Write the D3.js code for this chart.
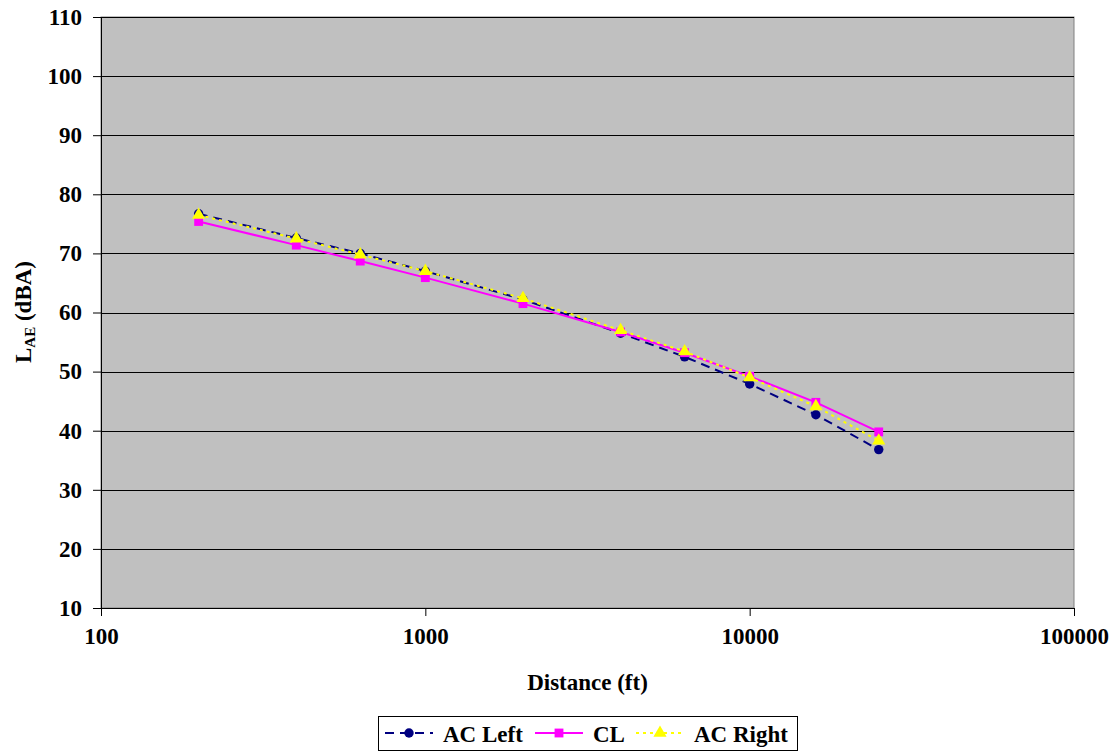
<!DOCTYPE html>
<html>
<head>
<meta charset="utf-8">
<script src="https://cdn.jsdelivr.net/npm/d3@7"></script>
<style>
  body { margin: 0; background: #fff; }
  text { font-family: "Liberation Serif", "Times New Roman", serif; font-weight: bold; fill: #000; }
</style>
</head>
<body>
<svg id="chart" width="1117" height="751"></svg>
<script>
// values
var distances = [200, 400, 630, 1000, 2000, 4000, 6300, 10000, 16000, 25000];
var acLeft  = [76.7, 72.6, 70.0, 67.0, 62.2, 56.5, 52.5, 47.9, 42.7, 36.8];
var cl      = [75.4, 71.4, 68.7, 65.9, 61.5, 56.7, 53.2, 49.2, 44.8, 39.8];
var acRight = [76.5, 72.5, 69.8, 67.0, 62.4, 57.0, 53.4, 49.0, 44.1, 38.3];
var xTicks = [100, 1000, 10000, 100000];
var yTicks = [10, 20, 30, 40, 50, 60, 70, 80, 90, 100, 110];
var seriesNames = ["AC Left", "CL", "AC Right"];

var plotLeft = 101, plotRight = 1074, plotTop = 17, plotBottom = 608;

var x = d3.scaleLog().domain([100, 100000]).range([plotLeft, plotRight]);
var y = d3.scaleLinear().domain([10, 110]).range([plotBottom, plotTop]);

var svg = d3.select("#chart");

svg.append("rect")
    .attr("x", plotLeft).attr("y", plotTop)
    .attr("width", plotRight - plotLeft).attr("height", plotBottom - plotTop)
    .attr("fill", "#c0c0c0")
    .attr("stroke", "#808080");

// gridlines
svg.append("g").selectAll("line")
    .data(yTicks)
    .enter().append("line")
    .attr("x1", plotLeft).attr("x2", plotRight)
    .attr("y1", function(d) { return Math.round(y(d)) + 0.5; })
    .attr("y2", function(d) { return Math.round(y(d)) + 0.5; })
    .attr("stroke", "#000").attr("stroke-width", 1.2);

// axes
var yAxis = d3.axisLeft(y).tickValues(yTicks).tickSize(8).tickPadding(11);
var xAxis = d3.axisBottom(x).tickValues(xTicks).tickSize(8).tickPadding(12)
    .tickFormat(function(d) { return d; });

var gy = svg.append("g").attr("transform", "translate(" + plotLeft + ",0)").call(yAxis);
var gx = svg.append("g").attr("transform", "translate(0," + plotBottom + ")").call(xAxis);

[gx, gy].forEach(function(g) {
    g.select(".domain").attr("stroke", "#000");
    g.selectAll(".tick line").attr("stroke", "#000");
    g.selectAll("text").style("font-size", "23px")
        .style("font-family", "'Liberation Serif', serif").style("font-weight", "bold");
});

// axis titles
svg.append("text")
    .attr("x", (plotLeft + plotRight) / 2).attr("y", 690)
    .attr("text-anchor", "middle")
    .style("font-size", "23px")
    .text("Distance (ft)");

var yt = svg.append("text")
    .attr("transform", "translate(31,312) rotate(-90)")
    .attr("text-anchor", "middle")
    .style("font-size", "23px");
yt.append("tspan").text("L");
yt.append("tspan").attr("dy", 4).style("font-size", "15px").text("AE");
yt.append("tspan").attr("dy", -4).text(" (dBA)");

var line = d3.line()
    .x(function(d) { return x(d[0]); })
    .y(function(d) { return y(d[1]); });

function pts(vals) { return distances.map(function(d, i) { return [d, vals[i]]; }); }

var styles = [
    { vals: acLeft,  color: "#000080", width: 2, dash: "9,6", sym: d3.symbolCircle,   size: 70 },
    { vals: cl,      color: "#ff00ff", width: 2, dash: null,  sym: d3.symbolSquare,   size: 78 },
    { vals: acRight, color: "#ffff00", width: 2, dash: "3,4", sym: d3.symbolTriangle, size: 75 }
];

styles.forEach(function(s) {
    var g = svg.append("g");
    g.append("path")
        .attr("d", line(pts(s.vals)))
        .attr("fill", "none")
        .attr("stroke", s.color)
        .attr("stroke-width", s.width)
        .attr("stroke-dasharray", s.dash);
    g.selectAll("path.mk")
        .data(pts(s.vals))
        .enter().append("path")
        .attr("class", "mk")
        .attr("d", d3.symbol().type(s.sym).size(s.size))
        .attr("transform", function(d) { return "translate(" + x(d[0]) + "," + y(d[1]) + ")"; })
        .attr("fill", s.color);
});

// legend
var legend = svg.append("g");
legend.append("rect")
    .attr("x", 378.5).attr("y", 716.5).attr("width", 419).attr("height", 34)
    .attr("fill", "#fff").attr("stroke", "#000");

var legX = [385, 535, 636];
styles.forEach(function(s, i) {
    var lg = legend.append("g").attr("transform", "translate(" + legX[i] + ",733)");
    lg.append("line")
        .attr("x1", 0).attr("x2", 48)
        .attr("stroke", s.color).attr("stroke-width", s.width)
        .attr("stroke-dasharray", s.dash);
    lg.append("path")
        .attr("d", d3.symbol().type(s.sym).size(s.size))
        .attr("transform", "translate(24,0)")
        .attr("fill", s.color);
    lg.append("text")
        .attr("x", 58).attr("y", 9)
        .style("font-size", "23px")
        .text(seriesNames[i]);
});
</script>
</body>
</html>
